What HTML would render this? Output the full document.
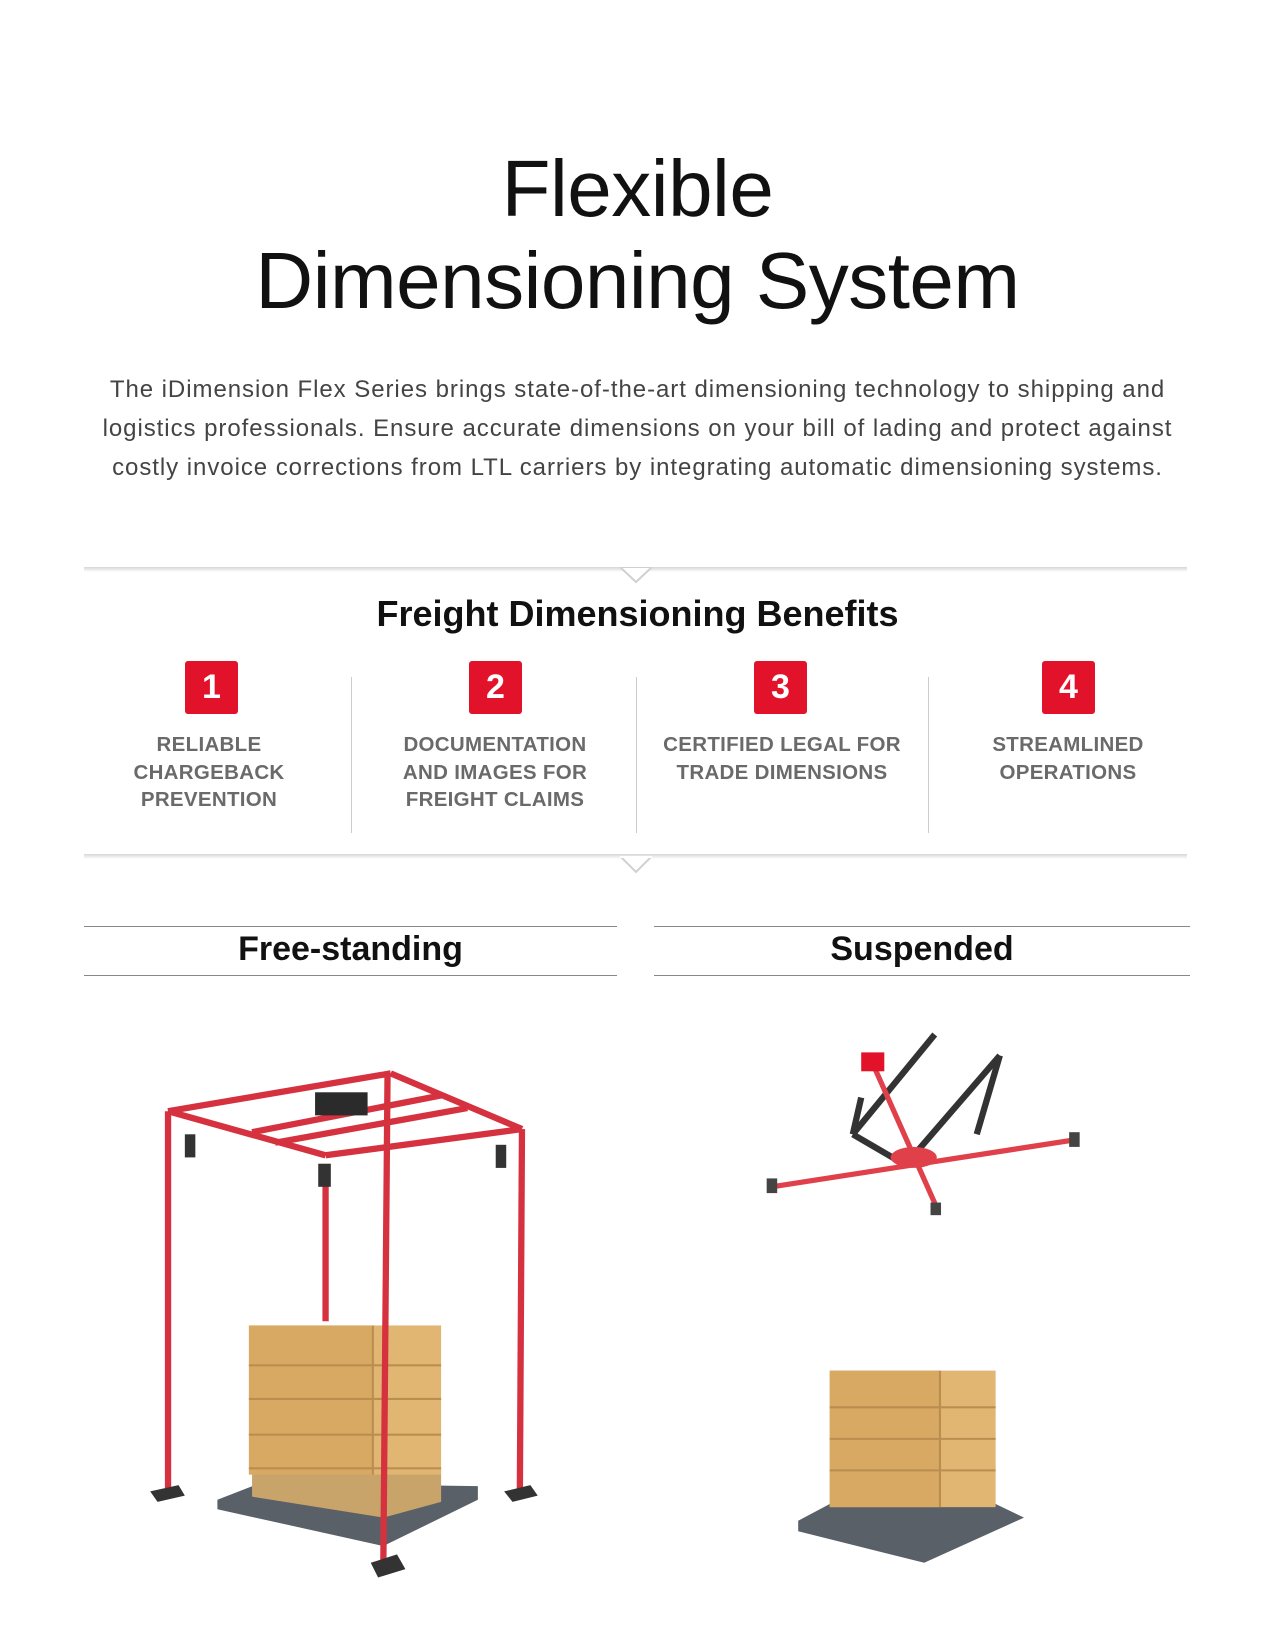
<!DOCTYPE html>
<html><head><meta charset="utf-8"><style>
*{margin:0;padding:0;box-sizing:border-box}
body{width:1275px;height:1650px;background:#fff;position:relative;overflow:hidden;font-family:"Liberation Sans",sans-serif}
.a{position:absolute}
.t{left:0;width:1275px;text-align:center;color:#111;font-weight:300;font-size:80px;letter-spacing:-0.5px}
.p{left:0;width:1275px;text-align:center;color:#444;font-size:24px;letter-spacing:0.95px;line-height:39px;top:370px}
.sh{height:5px;background:linear-gradient(#d6d6d6,#fff);left:84px;width:1103px}
.num{width:53px;height:53px;background:#e3122b;border-radius:3px;color:#fff;font-weight:bold;font-size:34px;text-align:center;line-height:53px}
.lb{width:280px;text-align:center;color:#6a6a6a;font-weight:bold;font-size:20.5px;letter-spacing:0.3px;line-height:27.5px}
.dv{width:1px;background:#ccc;top:677px;height:156px}
.hl{height:1px;background:#888}
.st{text-align:center;font-weight:bold;font-size:34px;color:#111;top:930px}
</style></head><body>
<div class="a t" style="top:143px">Flexible</div>
<div class="a t" style="top:235px">Dimensioning System</div>
<div class="a p">The iDimension Flex Series brings state-of-the-art dimensioning technology to shipping and<br>logistics professionals. Ensure accurate dimensions on your bill of lading and protect against<br>costly invoice corrections from LTL carriers by integrating automatic dimensioning systems.</div>

<div class="a sh" style="top:567px"></div>
<svg class="a" style="left:620px;top:566px" width="32" height="20"><polygon points="0,1 16,16 32,1" fill="#fff" stroke="#d0d0d0" stroke-width="2"/><rect x="0" y="0" width="32" height="1" fill="#fff"/></svg>
<div class="a" style="left:0;width:1275px;top:593px;text-align:center;font-weight:bold;font-size:36px;color:#111">Freight Dimensioning Benefits</div>

<div class="a num" style="left:185px;top:661px">1</div>
<div class="a num" style="left:469px;top:661px">2</div>
<div class="a num" style="left:754px;top:661px">3</div>
<div class="a num" style="left:1042px;top:661px">4</div>
<div class="a lb" style="left:69px;top:731px">RELIABLE<br>CHARGEBACK<br>PREVENTION</div>
<div class="a lb" style="left:355px;top:731px">DOCUMENTATION<br>AND IMAGES FOR<br>FREIGHT CLAIMS</div>
<div class="a lb" style="left:642px;top:731px">CERTIFIED LEGAL FOR<br>TRADE DIMENSIONS</div>
<div class="a lb" style="left:928px;top:731px">STREAMLINED<br>OPERATIONS</div>
<div class="a dv" style="left:351px"></div>
<div class="a dv" style="left:636px"></div>
<div class="a dv" style="left:928px"></div>

<div class="a sh" style="top:854px"></div>
<svg class="a" style="left:620px;top:856px" width="32" height="20"><polygon points="0,0 16,16 32,0" fill="#fff" stroke="#d0d0d0" stroke-width="2"/><rect x="0" y="0" width="32" height="2" fill="#fff"/></svg>

<div class="a hl" style="left:84px;width:533px;top:926px"></div>
<div class="a hl" style="left:84px;width:533px;top:975px"></div>
<div class="a hl" style="left:654px;width:536px;top:926px"></div>
<div class="a hl" style="left:654px;width:536px;top:975px"></div>
<div class="a st" style="left:84px;width:533px">Free-standing</div>
<div class="a st" style="left:654px;width:536px">Suspended</div>

<svg class="a" style="left:0;top:0" width="1275" height="1650" viewBox="0 0 1214 1571">
<polygon points="207,1428 248,1412 455,1415 455,1428 365,1472 207,1437" fill="#5a6068"/>
<polygon points="240,1402 420,1398 420,1430 365,1445 240,1425" fill="#c9a46a"/>
<rect x="237" y="1262" width="183" height="142" fill="#e1b672"/>
<rect x="237" y="1262" width="118" height="142" fill="#d8a962"/>
<g stroke="#b98e50" stroke-width="2"><line x1="237" y1="1300" x2="420" y2="1300"/><line x1="237" y1="1332" x2="420" y2="1332"/><line x1="237" y1="1366" x2="420" y2="1366"/><line x1="237" y1="1398" x2="420" y2="1398"/><line x1="355" y1="1262" x2="355" y2="1404"/></g>
<g stroke="#d5313f" stroke-width="6" fill="none">
<line x1="160" y1="1058" x2="160" y2="1418"/>
<line x1="497" y1="1075" x2="495" y2="1418"/>
<line x1="310" y1="1110" x2="310" y2="1258"/>
<line x1="160" y1="1058" x2="372" y2="1022"/>
<line x1="372" y1="1022" x2="497" y2="1075"/>
<line x1="160" y1="1058" x2="310" y2="1100"/>
<line x1="310" y1="1100" x2="497" y2="1075"/>
<line x1="240" y1="1078" x2="420" y2="1043"/>
<line x1="262" y1="1088" x2="445" y2="1055"/>
<line x1="369" y1="1022" x2="365" y2="1488"/>
</g>
<rect x="300" y="1040" width="50" height="22" fill="#2b2b2b"/>
<g fill="#333"><rect x="176" y="1080" width="10" height="22"/><rect x="472" y="1090" width="10" height="22"/><rect x="303" y="1108" width="12" height="22"/>
<polygon points="143,1420 170,1414 176,1424 150,1430"/><polygon points="480,1420 505,1414 512,1424 488,1430"/><polygon points="353,1488 378,1480 386,1494 360,1502"/></g>
<polygon points="760,1448 790,1432 948,1432 975,1445 880,1488 760,1458" fill="#5a6068"/>
<rect x="790" y="1305" width="158" height="130" fill="#e1b672"/>
<rect x="790" y="1305" width="105" height="130" fill="#d8a962"/>
<g stroke="#b98e50" stroke-width="2"><line x1="790" y1="1340" x2="948" y2="1340"/><line x1="790" y1="1370" x2="948" y2="1370"/><line x1="790" y1="1400" x2="948" y2="1400"/><line x1="895" y1="1305" x2="895" y2="1435"/></g>
<g stroke="#333" stroke-width="6"><line x1="812" y1="1080" x2="890" y2="985"/><line x1="870" y1="1100" x2="952" y2="1005"/><line x1="812" y1="1080" x2="860" y2="1108"/><line x1="812" y1="1080" x2="820" y2="1045"/><line x1="930" y1="1080" x2="952" y2="1005"/></g>
<g stroke="#e0404a" stroke-width="5"><line x1="735" y1="1130" x2="1025" y2="1085"/><line x1="832" y1="1015" x2="892" y2="1150"/></g>
<ellipse cx="870" cy="1102" rx="22" ry="10" fill="#e0404a"/>
<rect x="820" y="1002" width="22" height="18" fill="#e3122b"/>
<g fill="#444"><rect x="730" y="1122" width="10" height="14"/><rect x="1018" y="1078" width="10" height="14"/><rect x="886" y="1145" width="10" height="12"/></g>
</svg>
</body></html>
